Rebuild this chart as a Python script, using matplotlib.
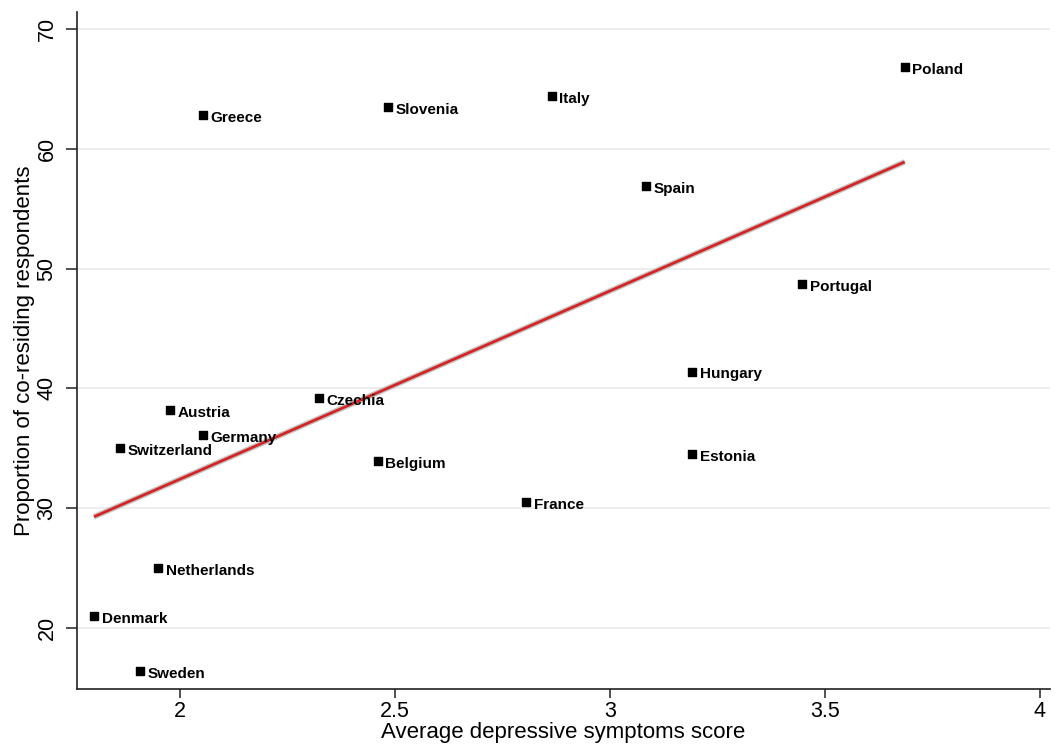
import numpy as np
import matplotlib
matplotlib.use("Agg")
import matplotlib.pyplot as plt

plt.rcParams['font.family'] = ['Liberation Sans', 'DejaVu Sans']

countries = ["Poland", "Greece", "Slovenia", "Italy", "Spain", "Portugal", "Hungary",
             "Estonia", "Czechia", "Austria", "Germany", "Switzerland", "Belgium",
             "France", "Netherlands", "Denmark", "Sweden"]
depress = [3.686, 2.053, 2.484, 2.865, 3.084, 3.447, 3.191,
           3.191, 2.323, 1.977, 2.053, 1.860, 2.460,
           2.805, 1.949, 1.800, 1.907]
coresid = [66.8, 62.8, 63.5, 64.4, 56.9, 48.7, 41.4,
           34.5, 39.2, 38.2, 36.1, 35.0, 33.9,
           30.5, 25.0, 21.0, 16.4]
# fitted line: intercept, slope
fit_intercept = 1.0
fit_slope = 15.71

x = np.array(depress)
y = np.array(coresid)

fig = plt.figure(figsize=(10.55, 7.55), dpi=100)
ax = fig.add_axes([0.073, 0.0874, 0.922, 0.897])

xs = np.linspace(x.min(), x.max(), 100)
ys = fit_intercept + fit_slope * xs
ax.plot(xs, ys, color='#c4c4c4', lw=4.0, zorder=2, solid_capstyle='butt')
ax.plot(xs, ys, color='#d62424', lw=2.0, zorder=3, solid_capstyle='butt')

ax.scatter(x, y, marker='s', s=40, color='black', zorder=4)
for c, xi, yi in zip(countries, x, y):
    ax.annotate(c, (xi, yi), xytext=(5.5, -2), textcoords='offset points',
                ha='left', va='center', fontsize=11, fontweight='bold', zorder=5)

ax.set_xlim(1.7605, 4.0233)
ax.set_ylim(14.9, 71.44)
ax.set_xticks([2, 2.5, 3, 3.5, 4])
ax.set_xticklabels(["2", "2.5", "3", "3.5", "4"])
ax.set_yticks([20, 30, 40, 50, 60, 70])
ax.set_yticklabels(["20", "30", "40", "50", "60", "70"], rotation=90, va='center')
ax.tick_params(axis='both', labelsize=15.5, width=1.2, color='#333333')
ax.tick_params(axis='x', length=6.5, pad=2)
ax.tick_params(axis='y', length=8, pad=6)
ax.grid(axis='y', color='#ececec', lw=1.3, zorder=0)
ax.set_axisbelow(True)
for sp in ['top', 'right']:
    ax.spines[sp].set_visible(False)
for sp in ['left', 'bottom']:
    ax.spines[sp].set_linewidth(1.2)
    ax.spines[sp].set_color('#222222')

ax.set_xlabel("Average depressive symptoms score", fontsize=16, labelpad=0)
ax.set_ylabel("Proportion of co-residing respondents", fontsize=16, labelpad=1)

fig.savefig("out.png", dpi=100, facecolor='white')
